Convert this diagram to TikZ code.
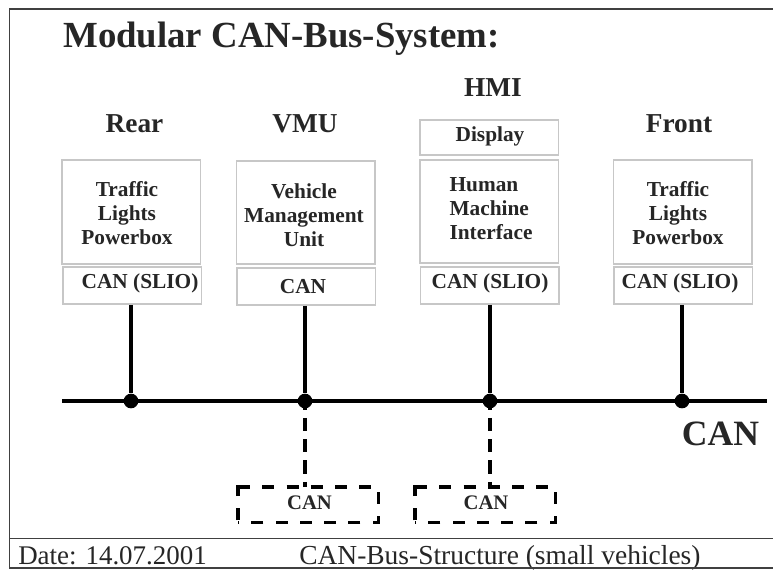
\documentclass[tikz,border=0pt]{standalone}
\usepackage{fontspec}
\setmainfont{Liberation Serif}
\tikzset{
  px/.style={x=0.75pt,y=-0.75pt},
  lbox/.style={draw=black!22,line width=1.2pt,anchor=north west,inner sep=0pt,minimum width=104pt},
  boxtxt/.style={font=\bfseries\fontsize{16}{18}\selectfont,align=center,text=black!85,inner sep=0pt},
  head/.style={font=\bfseries\fontsize{20.5}{22}\selectfont,text=black!85,inner sep=0pt},
  busline/.style={line width=3.6pt,black},
  stub/.style={line width=2.3pt,black},
  dstub/.style={line width=2.5pt,black,dash pattern=on 10pt off 6pt,dash phase=3.4pt},
  dside/.style={line width=2.5pt,black,dash pattern=on 9pt off 9.2pt},
  dbox/.style={anchor=north west,inner sep=0pt,minimum width=105pt,minimum height=26.25pt},
  dot/.style={circle,fill=black,minimum size=11pt,inner sep=0pt},
  frameline/.style={line width=1.4pt,black!75},
  foot/.style={font=\fontsize{20.6}{22}\selectfont,text=black!85,inner sep=0pt,anchor=base west},
  smallcan/.style={font=\bfseries\fontsize{15.5}{17}\selectfont,text=black!85,inner sep=0pt}
}
\begin{document}
\begin{tikzpicture}[px]
\useasboundingbox (0,0) rectangle (773,569);
\fill[white] (0,0) rectangle (773,569);
\node[font=\bfseries\fontsize{27.6}{30}\selectfont,text=black!85,inner sep=0pt,anchor=base west] (title) at (63,47) {Modular CAN-Bus-System:};
\node[head] (hrear) at (134.5,124) {Rear};
\node[head] (hvmu) at (305,124) {VMU};
\node[head] (hhmi) at (493,88) {HMI};
\node[head] (hfront) at (679,124) {Front};
% upper boxes
\node[lbox,minimum height=78pt] (b1) at (61,159) {};
\node[lbox,minimum height=77.5pt] (b2) at (235.5,160) {};
\node[lbox,minimum height=77.5pt] (b3) at (419,159) {};
\node[lbox,minimum height=78pt] (b4) at (612.5,159) {};
\node[lbox,minimum height=26.5pt] (disp) at (419,119) {};
\node[lbox,minimum height=28pt] (c1) at (62,266) {};
\node[lbox,minimum height=28pt] (c2) at (236,267) {};
\node[lbox,minimum height=28pt] (c3) at (419.5,266) {};
\node[lbox,minimum height=28pt] (c4) at (613,266) {};
\node[boxtxt] (t1) at (127,213) {Traffic\\Lights\\Powerbox};
\node[boxtxt] (t2) at (304,215.5) {Vehicle\\Management\\Unit};
\node[boxtxt,align=left] (t3) at (491,208.5) {Human\\Machine\\Interface};
\node[boxtxt] (t4) at (678,213) {Traffic\\Lights\\Powerbox};
\node[boxtxt] (td) at (490,136) {Display};
\node[boxtxt] (tc1) at (140,283) {CAN (SLIO)};
\node[boxtxt] (tc2) at (303,287) {CAN};
\node[boxtxt] (tc3) at (490,283) {CAN (SLIO)};
\node[boxtxt] (tc4) at (680,283) {CAN (SLIO)};
% bus
\coordinate (busL) at (62,401);
\coordinate (busR) at (767,401);
\draw[busline] (busL) -- (busR);
\node[dot] (d1) at (131,401) {};
\node[dot] (d2) at (305,401) {};
\node[dot] (d3) at (490,401) {};
\node[dot] (d4) at (682,401) {};
\draw[stub] (c1.south -| d1) -- (d1);
\draw[stub] (c2.south -| d2) -- (d2);
\draw[stub] (c3.south -| d3) -- (d3);
\draw[stub] (c4.south -| d4) -- (d4);
% dashed boxes
\node[dbox] (e1) at (238,487) {};
\node[dbox] (e2) at (415,487) {};
\foreach \e in {e1,e2}{
  \draw[dside,line join=miter] (\e.north west) -- (\e.north east) -- (\e.south east) -- (\e.south west);
  \draw[dside,dash phase=16.5pt] (\e.south west) -- (\e.north west) -- ++(3,0);
}
\node[smallcan] (te1) at (309.5,503) {CAN};
\node[smallcan] (te2) at (486,503) {CAN};
\draw[dstub] (d2.center) -- (d2 |- e1.north);
\draw[dstub] (d3.center) -- (d3 |- e2.north);
\node[font=\bfseries\fontsize{26.7}{28}\selectfont,text=black!85,inner sep=0pt] (can) at (720.5,434) {CAN};
\node[foot,font=\fontsize{20.2}{22}\selectfont] (date) at (18,564) {Date: 14.07.2001};
\node[foot] (sub) at (299,564) {CAN-Bus-Structure (small vehicles)};
\draw[frameline] (773,9) -- (9.5,9) -- (9.5,569) (9.5,538.5) -- (773,538.5) (9.5,568) -- (773,568);
\end{tikzpicture}
\end{document}
